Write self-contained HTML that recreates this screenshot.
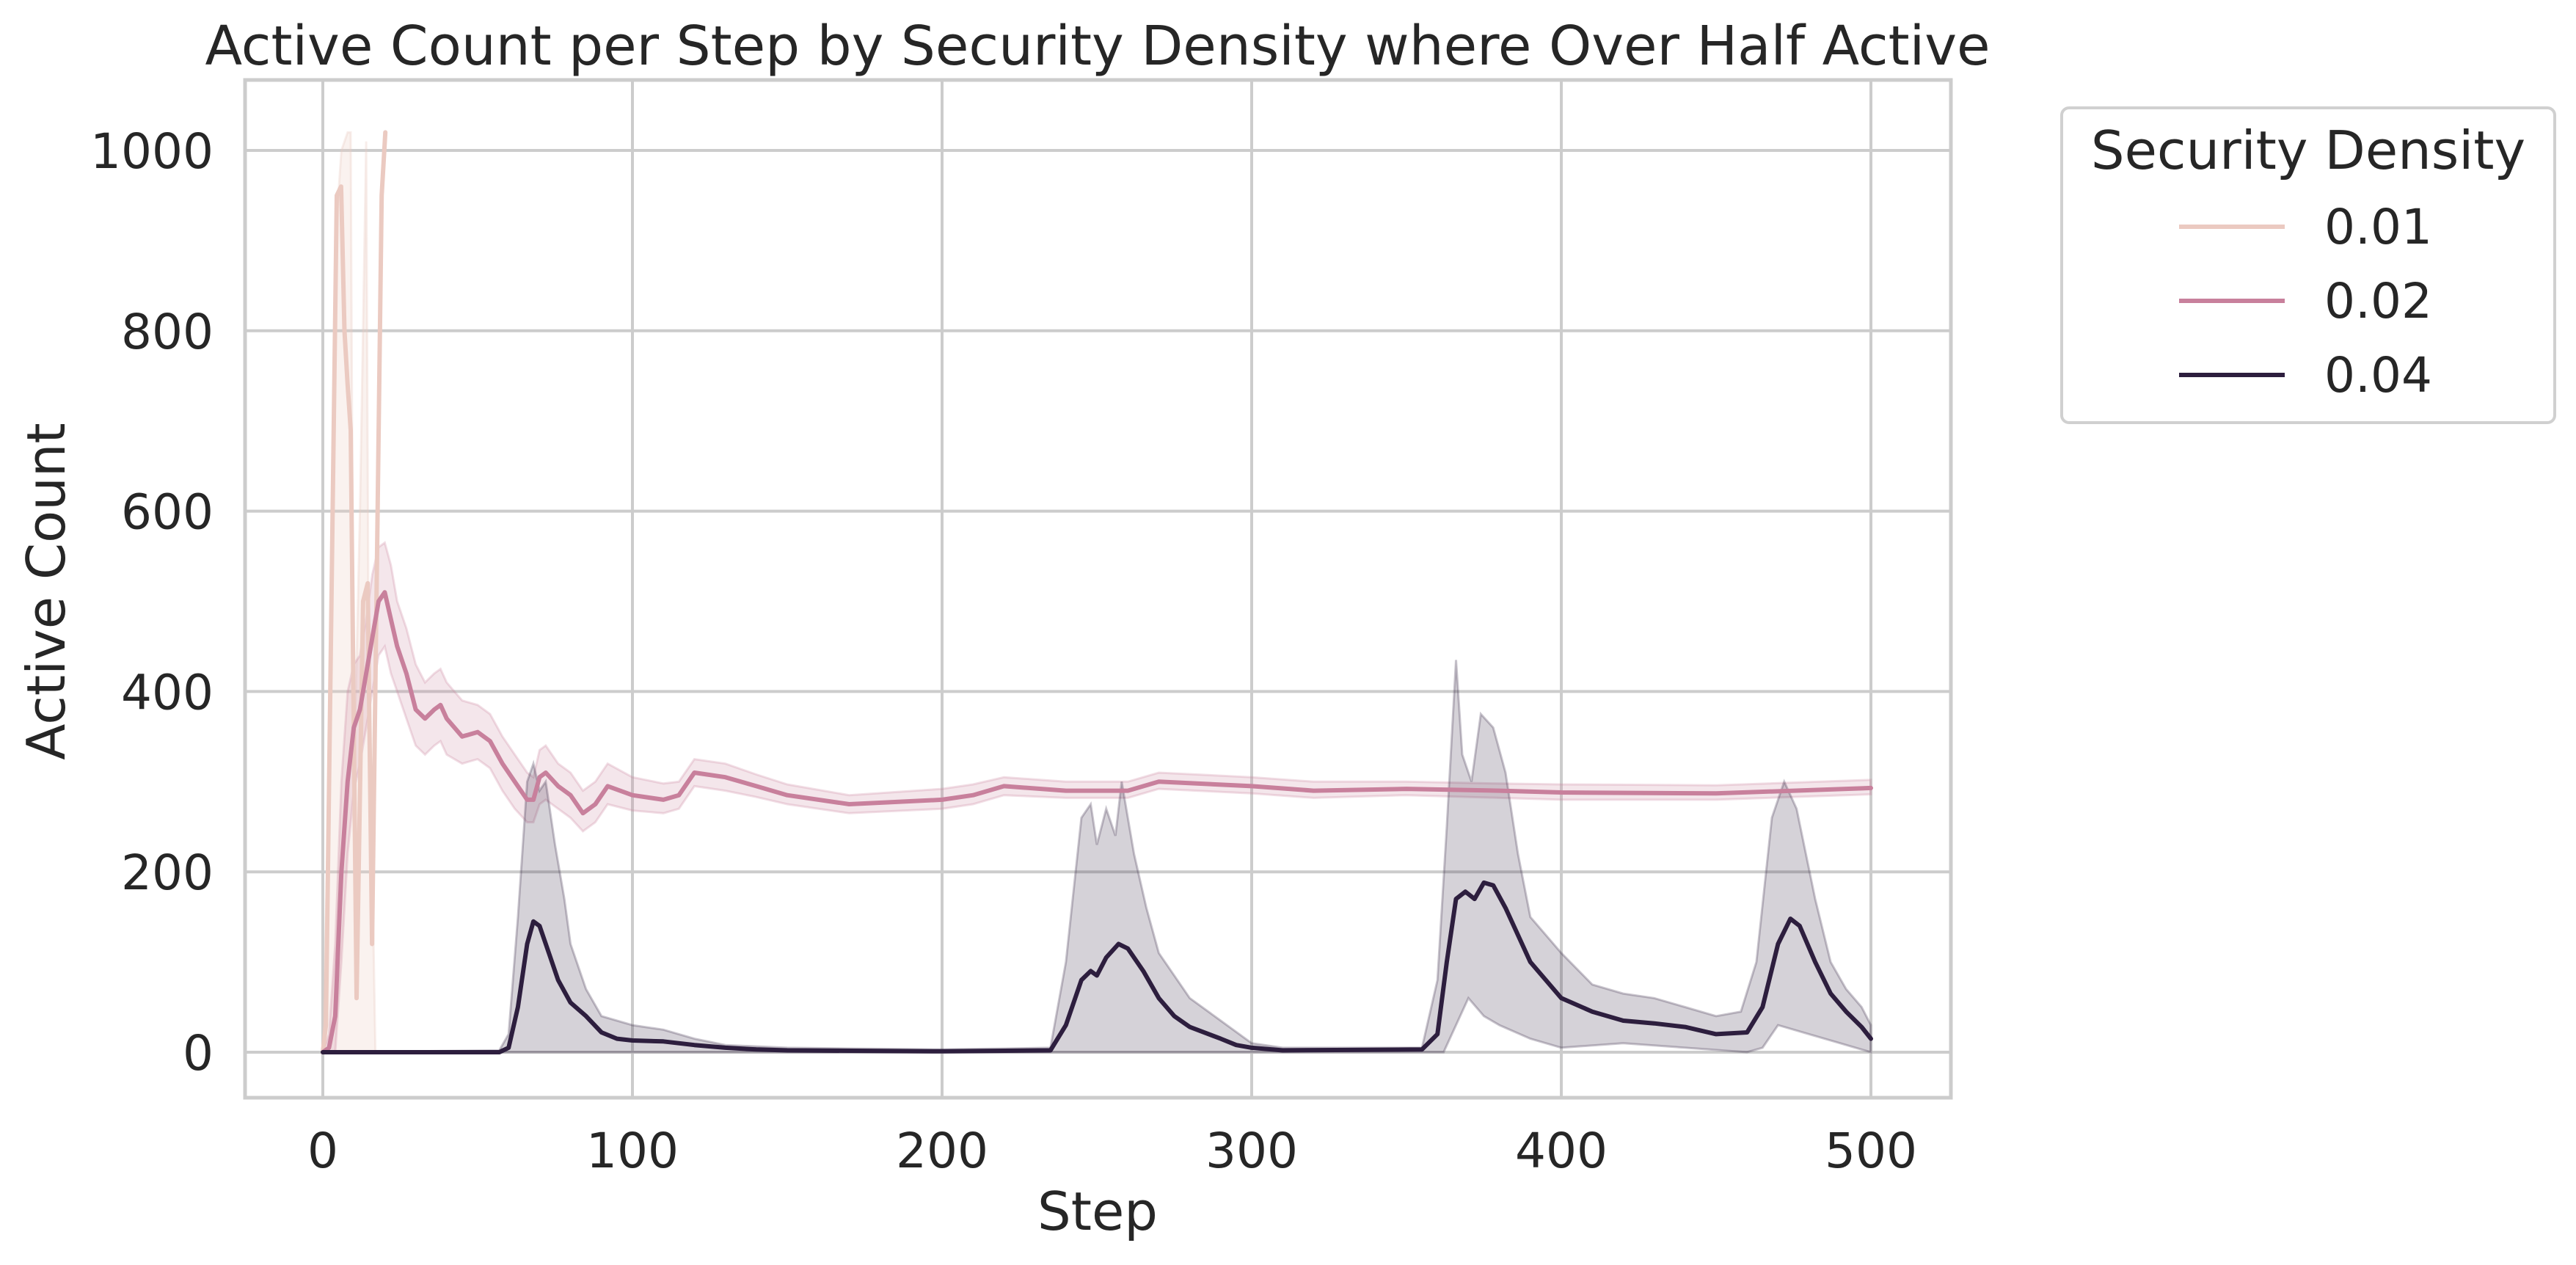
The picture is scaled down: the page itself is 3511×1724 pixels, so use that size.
<!DOCTYPE html>
<html><head><meta charset="utf-8"><style>
html,body{margin:0;padding:0;background:#fff;}
svg{display:block;font-family:"DejaVu Sans","Liberation Sans",sans-serif;}
</style></head><body>
<svg id="chart" width="3511" height="1724" viewBox="0 0 3511 1724">
<g id="grid"></g>
<g id="plot"></g>
<rect x="334" y="109" width="2325" height="1387" fill="none" stroke="#cccccc" stroke-width="5"/>
<g id="ticks"></g>
<text x="1496" y="88" font-size="74" fill="#262626" text-anchor="middle">Active Count per Step by Security Density where Over Half Active</text>
<text x="1496" y="1676" font-size="72" fill="#262626" text-anchor="middle">Step</text>
<text transform="translate(88,806) rotate(-90)" font-size="72" fill="#262626" text-anchor="middle">Active Count</text>
<g>
<rect x="2810" y="147" width="672" height="429" rx="10" fill="#fff" stroke="#d0d0d0" stroke-width="4"/>
<text x="3146" y="230" font-size="72" fill="#262626" text-anchor="middle">Security Density</text>
<g><line x1="2970" y1="309" x2="3114" y2="309" stroke="#ebcac1" stroke-width="6"/><text x="3168" y="332" font-size="66" fill="#262626">0.01</text></g>
<g><line x1="2970" y1="410" x2="3114" y2="410" stroke="#c8809c" stroke-width="6"/><text x="3168" y="433" font-size="66" fill="#262626">0.02</text></g>
<g><line x1="2970" y1="511" x2="3114" y2="511" stroke="#2d1e3e" stroke-width="6"/><text x="3168" y="534" font-size="66" fill="#262626">0.04</text></g>
</g>
</svg>
<script>
const xTicks=[0,100,200,300,400,500];
const yTicks=[0,200,400,600,800,1000];
// 0.04 series
const d4Steps=[0,57,60,63,66,68,70,73,76,80,85,90,95,100,110,120,130,140,150,200,235,240,245,248,250,253,257,260,265,270,275,280,290,295,300,310,355,360,363,366,369,372,375,378,382,386,390,395,400,410,420,430,440,450,460,465,470,474,477,482,487,492,497,500];
const d4Mean=[0,0,5,50,120,145,140,110,80,55,40,22,15,13,12,8,5,3,2,1,2,30,80,90,85,105,120,115,90,60,40,28,15,8,5,2,3,20,100,170,178,170,188,185,160,130,100,80,60,45,35,32,28,20,22,50,120,148,140,100,65,45,28,15];
const d4HiSteps=[0,57,60,63,66,68,70,72,75,78,80,85,90,100,110,120,130,150,200,235,240,245,248,250,253,256,258,262,266,270,280,290,300,310,355,360,363,366,368,371,374,378,382,386,390,400,410,420,430,440,450,458,463,468,472,476,482,487,492,497,500];
const d4Hi=[0,2,20,150,300,320,290,300,230,170,120,70,40,30,25,15,8,5,3,5,100,260,275,230,270,240,300,220,160,110,60,35,10,5,5,80,250,435,330,300,375,360,310,220,150,110,75,65,60,50,40,45,100,260,300,270,170,100,70,50,30];
const d4LoSteps=[0,362,366,370,375,380,390,400,420,440,460,465,470,480,490,500];
const d4Lo=[0,0,30,60,40,30,15,5,10,5,0,5,30,20,10,0];
// 0.02 series
const d2Steps=[0,2,4,6,8,10,12,14,16,18,20,22,24,27,30,33,36,38,40,45,50,54,58,62,66,68,70,72,76,80,84,88,92,100,110,115,120,130,140,150,170,200,210,220,240,260,270,300,320,350,380,400,450,500];
const d2Mean=[0,5,40,200,300,360,380,420,460,500,510,480,450,420,380,370,380,385,370,350,355,345,320,300,280,280,305,310,295,285,265,275,295,285,280,285,310,305,295,285,275,280,285,295,290,290,300,295,290,292,290,288,287,293];
const d2Hi=[0,20,120,300,400,430,440,480,530,560,565,540,500,470,430,410,420,425,410,390,385,375,350,330,310,305,335,340,320,310,290,300,320,305,298,300,325,320,308,297,285,292,297,305,300,300,310,305,300,300,298,297,296,302];
const d2Lo=[0,0,0,100,220,290,320,360,400,440,450,420,400,370,340,330,340,345,330,320,325,315,290,270,255,255,275,280,270,260,245,255,275,268,265,270,295,290,283,275,265,270,275,285,282,282,292,287,282,285,282,280,280,286];
// 0.01 series
const d1Steps=[0,1,4.5,5.9,7,8,9,10.9,13,14.5,15.9,19,20.2];
const d1Mean=[0,30,950,960,800,740,690,60,500,520,120,950,1020];
const d1BandSteps=[0,2,4,6,8,9,10,12,14,15,16,17];
const d1BandHi=[0,300,900,1000,1020,1020,300,600,1010,300,200,0];

const NS='http://www.w3.org/2000/svg';
const sx=v=>440+v*4.22;
const sy=v=>1434-v*1.229;
function mk(tag,attrs,parent){const e=document.createElementNS(NS,tag);for(const k in attrs)e.setAttribute(k,attrs[k]);parent.appendChild(e);return e;}
const grid=document.getElementById('grid'),plot=document.getElementById('plot'),ticks=document.getElementById('ticks');
xTicks.forEach(t=>{
  const l=mk('line',{x1:sx(t),x2:sx(t),y1:109,y2:1496,stroke:'#cccccc','stroke-width':4},grid);
  
  
  const tx=mk('text',{x:sx(t),y:1591,'font-size':66,fill:'#262626','text-anchor':'middle'},ticks);
  tx.textContent=t;
  
  
});
yTicks.forEach(t=>{
  const l=mk('line',{x1:334,x2:2659,y1:sy(t),y2:sy(t),stroke:'#cccccc','stroke-width':4},grid);
  
  
  const tx=mk('text',{x:291,y:sy(t)+24,'font-size':66,fill:'#262626','text-anchor':'end'},ticks);
  tx.textContent=t;
  
  
});
const pts=(xs,ys)=>xs.map((x,i)=>sx(x).toFixed(1)+','+sy(ys[i]).toFixed(1));
function band(xh,yh,xl,yl,color,op,name){
  const p=pts(xh,yh).concat(pts(xl,yl).reverse());
  const e=mk('polygon',{points:p.join(' '),fill:color,'fill-opacity':op,stroke:color,'stroke-opacity':op*1.3,'stroke-width':3},plot);
  
  
}
function line(xs,ys,color,w,name){
  const e=mk('polyline',{points:pts(xs,ys).join(' '),fill:'none',stroke:color,'stroke-width':w,'stroke-linejoin':'round','stroke-linecap':'round'},plot);
  
  
}
band(d1BandSteps,d1BandHi,d1BandSteps,d1BandSteps.map(()=>0),'#ebcac1',0.25,'band-0.01');
band(d2Steps,d2Hi,d2Steps,d2Lo,'#c8809c',0.2,'band-0.02');
band(d4HiSteps,d4Hi,d4LoSteps,d4Lo,'#2d1e3e',0.2,'band-0.04');
line(d1Steps,d1Mean,'#ebcac1',6,'line-0.01');
line(d2Steps,d2Mean,'#c8809c',6,'line-0.02');
line(d4Steps,d4Mean,'#2d1e3e',6,'line-0.04');
</script>
</body></html>
